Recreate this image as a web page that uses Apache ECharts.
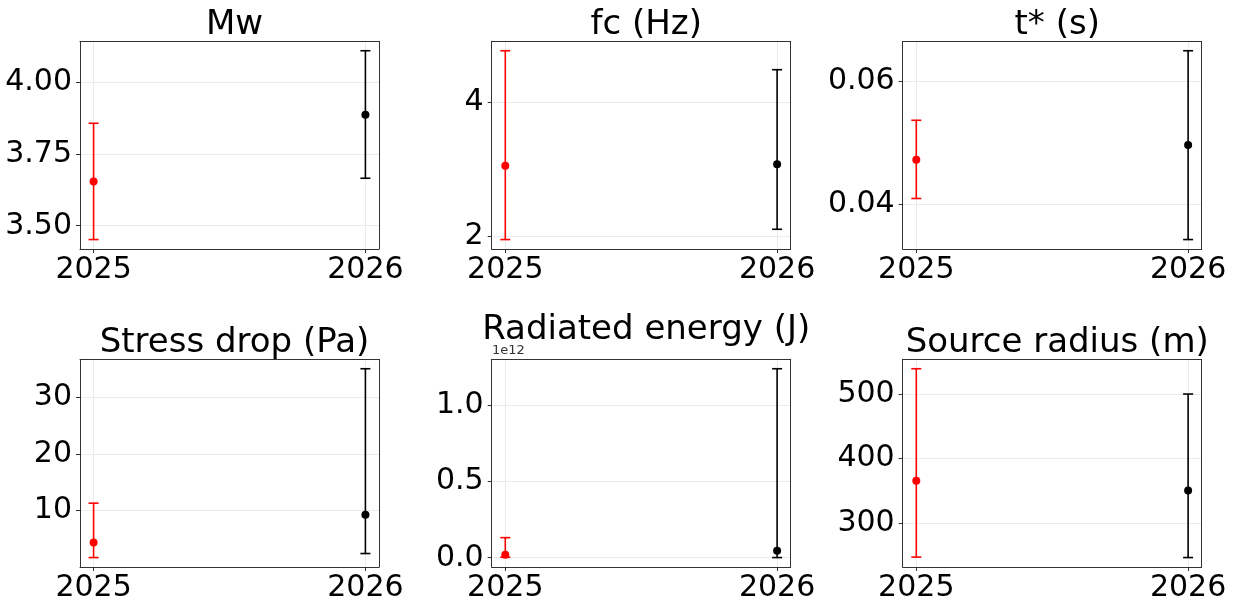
<!DOCTYPE html>
<html>
<head>
<meta charset="utf-8">
<script src="https://cdn.jsdelivr.net/npm/echarts@6/dist/echarts.min.js"></script>
<style>
html,body{margin:0;padding:0;background:#fff;}
#c{width:1237px;height:605px;}
</style>
</head>
<body>
<div id="c"></div>
<script>
// ---- data ----
const years = ['2025', '2026'];
const titles = ['Mw', 'fc (Hz)', 't* (s)', 'Stress drop (Pa)', 'Radiated energy (J)', 'Source radius (m)'];
// per panel: [value2025, value2026]
const mwMean = [3.654, 3.886];
const mwLow = [3.452, 3.665];
const mwHigh = [3.856, 4.108];
const fcMean = [3.054, 3.073];
const fcLow = [1.955, 2.108];
const fcHigh = [4.762, 4.48];
const tMean = [0.04728, 0.04967];
const tLow = [0.04097, 0.03429];
const tHigh = [0.05369, 0.0650];
const sdMean = [4.36, 9.24];
const sdLow = [1.71, 2.42];
const sdHigh = [11.3, 35.0];
const erMean = [2.0e10, 4.6e10];
const erLow = [3.0e9, 1.0e9];
const erHigh = [1.32e11, 1.243e12];
const srMean = [365.3, 350.2];
const srLow = [246.7, 246.0];
const srHigh = [539.3, 500.0];
// tick labels
const mwTicks = [3.5, 3.75, 4.0];
const fcTicks = [2, 4];
const tTicks = [0.04, 0.06];
const sdTicks = [10, 20, 30];
const erTicks = [0, 0.5e12, 1.0e12];
const srTicks = [300, 400, 500];

const colors = ['#ff0000', '#000000'];
const panels = [
  {mean: mwMean, low: mwLow, high: mwHigh, ticks: mwTicks, fmt: v => v.toFixed(2), offset: false},
  {mean: fcMean, low: fcLow, high: fcHigh, ticks: fcTicks, fmt: v => String(v), offset: false},
  {mean: tMean, low: tLow, high: tHigh, ticks: tTicks, fmt: v => v.toFixed(2), offset: false},
  {mean: sdMean, low: sdLow, high: sdHigh, ticks: sdTicks, fmt: v => String(v), offset: false},
  {mean: erMean, low: erLow, high: erHigh, ticks: erTicks, fmt: v => (v / 1e12).toFixed(1), offset: true},
  {mean: srMean, low: srLow, high: srHigh, ticks: srTicks, fmt: v => String(v), offset: false}
];

const lefts = [80, 491.7, 902.7];
const tops = [41.3, 359.3];
const W = 299, H = 207.7;
const FONT = 'DejaVu Sans';

const grids = [], xAxes = [], yAxes = [], series = [], titleArr = [];
panels.forEach((p, i) => {
  const r = Math.floor(i / 3), c = i % 3;
  grids.push({left: lefts[c], top: tops[r], width: W, height: H, show: false});
  const lo = Math.min(...p.low), hi = Math.max(...p.high);
  const m = (hi - lo) * 0.05;
  xAxes.push({
    gridIndex: i, type: 'value', min: -0.05, max: 1.05,
    axisLine: {show: true, onZero: false, lineStyle: {color: '#333', width: 1}},
    axisTick: {show: true, length: 4, customValues: [0, 1], lineStyle: {color: '#333'}},
    axisLabel: {customValues: [0, 1], formatter: v => years[Math.round(v)], color: '#000',
      fontSize: 30, fontFamily: FONT, margin: 6},
    splitLine: {show: true, lineStyle: {color: '#ebebeb', width: 1}}
  });
  yAxes.push({
    gridIndex: i, type: 'value', min: lo - m, max: hi + m,
    axisLine: {show: true, onZero: false, lineStyle: {color: '#333', width: 1}},
    axisTick: {show: true, length: 4, customValues: p.ticks, lineStyle: {color: '#333'}},
    axisLabel: {customValues: p.ticks, formatter: p.fmt, color: '#000',
      fontSize: 30, fontFamily: FONT, margin: 8},
    splitLine: {show: true, lineStyle: {color: '#ebebeb', width: 1}}
  });
  // frame (top/right spines)
  xAxes.push({
    gridIndex: i, type: 'value', min: -0.05, max: 1.05, position: 'top',
    axisLine: {show: true, onZero: false, lineStyle: {color: '#333', width: 1}},
    axisTick: {show: false}, axisLabel: {show: false}, splitLine: {show: false}
  });
  yAxes.push({
    gridIndex: i, type: 'value', min: lo - m, max: hi + m, position: 'right',
    axisLine: {show: true, onZero: false, lineStyle: {color: '#333', width: 1}},
    axisTick: {show: false}, axisLabel: {show: false}, splitLine: {show: false}
  });
  const xi = i * 2, yi = i * 2;
  const errData = years.map((y, k) => [k, p.mean[k], p.low[k], p.high[k]]);
  series.push({
    type: 'custom', xAxisIndex: xi, yAxisIndex: yi, silent: true,
    data: errData,
    encode: {x: 0, y: [1, 2, 3]},
    renderItem: function (params, api) {
      const k = api.value(0);
      const pLo = api.coord([k, api.value(2)]);
      const pHi = api.coord([k, api.value(3)]);
      const col = colors[k];
      const hw = 5;
      return {
        type: 'group',
        children: [
          {type: 'line', shape: {x1: pLo[0], y1: pLo[1], x2: pHi[0], y2: pHi[1]}, style: {stroke: col, lineWidth: 1.6}},
          {type: 'line', shape: {x1: pLo[0] - hw, y1: pLo[1], x2: pLo[0] + hw, y2: pLo[1]}, style: {stroke: col, lineWidth: 1.6}},
          {type: 'line', shape: {x1: pHi[0] - hw, y1: pHi[1], x2: pHi[0] + hw, y2: pHi[1]}, style: {stroke: col, lineWidth: 1.6}}
        ]
      };
    }
  });
  series.push({
    type: 'scatter', xAxisIndex: xi, yAxisIndex: yi, silent: true,
    symbol: 'circle', symbolSize: 8,
    data: years.map((y, k) => ({value: [k, p.mean[k]], itemStyle: {color: colors[k], opacity: 1}}))
  });
  titleArr.push({
    text: titles[i], left: lefts[c] + W / 2, top: tops[r] - 38.5 - (p.offset ? 13 : 0), textAlign: 'center',
    textStyle: {fontSize: 34, fontWeight: 'normal', color: '#000', fontFamily: FONT}
  });
});

const chart = echarts.init(document.getElementById('c'), null, {renderer: 'canvas'});
chart.setOption({
  animation: false,
  backgroundColor: '#fff',
  title: titleArr,
  grid: grids,
  xAxis: xAxes,
  yAxis: yAxes,
  series: series,
  graphic: [{
    type: 'text', left: 492, top: 344, z: 100,
    style: {text: '1e12', fontSize: 13, fontFamily: FONT, fill: '#333'}
  }]
});
</script>
</body>
</html>
